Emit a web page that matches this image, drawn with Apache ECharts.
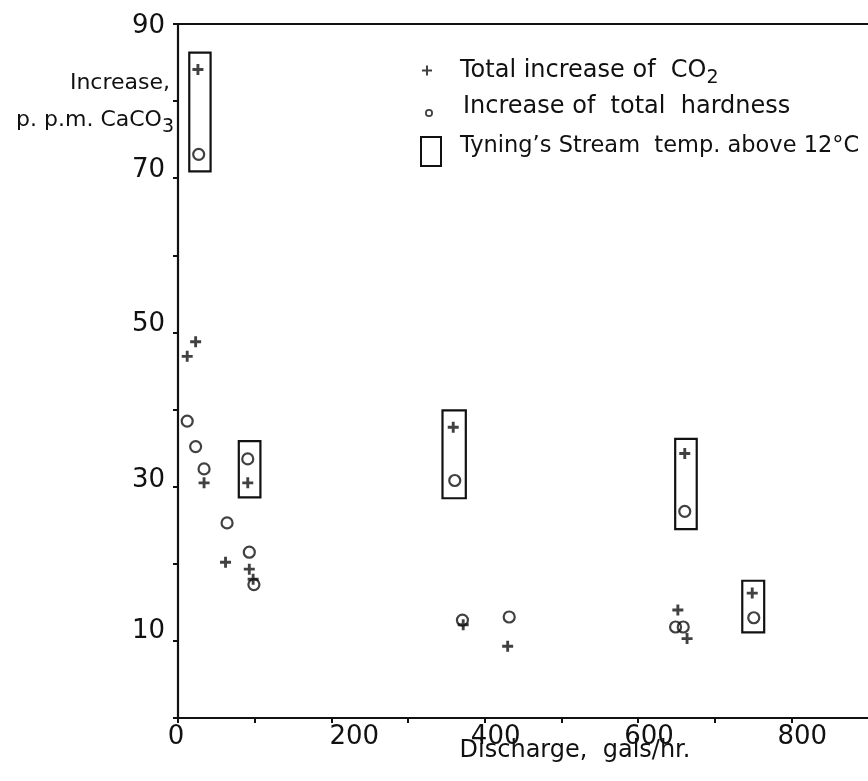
<!DOCTYPE html>
<html><head><meta charset="utf-8">
<script src="https://cdn.jsdelivr.net/npm/echarts/dist/echarts.min.js"></script>
<style>html,body{margin:0;padding:0;background:#fff}#c{width:868px;height:781px}</style>
</head><body><div id="c"></div>
<script>
// Total increase of CO2 (+)
const co2X = [26, 12, 23, 34, 91, 62, 93, 98, 359, 372, 430, 661, 652, 664, 749];
const co2Y = [84.1, 46.9, 48.8, 30.5, 30.5, 20.2, 19.3, 18.0, 37.7, 12.1, 9.3, 34.3, 14.0, 10.3, 16.2];
// Increase of total hardness (o)
const hardX = [27, 12, 23, 34, 91, 64, 93, 99, 361, 371, 432, 661, 649, 659, 751];
const hardY = [73.1, 38.5, 35.2, 32.3, 33.6, 25.3, 21.5, 17.3, 30.8, 12.7, 13.1, 26.8, 11.8, 11.8, 13.0];
// Tyning's Stream temp. above 12°C (boxes)
const boxX0 = [14.7, 79.3, 345, 648.5, 736];
const boxX1 = [42.5, 107.5, 375.4, 676.6, 764.6];
const boxY0 = [70.9, 28.6, 28.5, 24.5, 11.1];
const boxY1 = [86.3, 35.9, 39.9, 36.2, 17.8];
const xLabelValues = [0, 200, 400, 600, 800];
const yLabelValues = [10, 30, 50, 70, 90];

const INK = '#111';
const FONT = 'DejaVu Sans';
const plusPath = 'path://M3.7,0h2.6v3.7h3.7v2.6h-3.7v3.7h-2.6v-3.7h-3.7v-2.6h3.7z';
const legPlusPath = 'path://M4,0h2v4h4v2h-4v4h-2v-4h-4v-2h4z';
const ringPath = 'path://M5,0A5,5,0,1,1,4.99,0ZM5,2.2A2.8,2.8,0,1,0,5.01,2.2Z';
const boxPath = 'path://M0,0H22V31H0ZM2,2V29H20V2Z';

const nameCO2 = 'Total increase of  CO2';
const nameHard = 'Increase of  total  hardness';
const nameBox = 'Tyning\u2019s Stream  temp. above 12\u00B0C';

const co2Data = co2X.map((x, i) => [x, co2Y[i]]);
const hardData = hardX.map((x, i) => [x, hardY[i]]);
const boxData = boxX0.map((x, i) => [x, boxX1[i], boxY0[i], boxY1[i]]);

const txt = (size, extra) => Object.assign({fontFamily: FONT, fontSize: size, color: INK}, extra || {});

const chart = echarts.init(document.getElementById('c'));
const legendBase = {orient: 'vertical', selectedMode: false, itemGap: 0, padding: 0};
chart.setOption({
  animation: false,
  backgroundColor: '#fff',
  grid: {left: 178, right: -2, top: 24, bottom: 63},
  legend: [
    Object.assign({}, legendBase, {left: 422, top: 58.5, itemWidth: 10, itemHeight: 10,
      data: [{name: nameCO2, icon: legPlusPath, itemStyle: {color: INK, borderWidth: 0}}],
      formatter: () => '{a|Total increase of  CO}{s|2}',
      textStyle: txt(24, {padding: [0, 0, 0, 23], rich: {
        a: txt(24), s: txt(19, {padding: [16, 0, 0, 0]})}})}),
    Object.assign({}, legendBase, {left: 425, top: 95, itemWidth: 8, itemHeight: 8,
      data: [{name: nameHard, icon: ringPath, itemStyle: {color: INK, borderWidth: 0}}],
      formatter: n => '{a|' + n + '}',
      textStyle: txt(24, {padding: [0, 0, 0, 25], rich: {a: txt(24, {padding: [0, 0, 12, 0]})}})}),
    Object.assign({}, legendBase, {left: 420, top: 135, itemWidth: 22, itemHeight: 31,
      data: [{name: nameBox, icon: boxPath, itemStyle: {color: INK, borderWidth: 0}}],
      formatter: n => '{a|' + n + '}',
      textStyle: txt(22.5, {padding: [0, 0, 0, 13], rich: {a: txt(22.5, {padding: [0, 0, 10, 0]})}})})
  ],
  xAxis: [{
    type: 'value', min: 0, max: 900, interval: 100,
    axisLine: {lineStyle: {color: INK, width: 2.2}},
    axisTick: {show: true, length: 5, inside: false, lineStyle: {color: INK, width: 2}},
    splitLine: {show: false},
    axisLabel: {
      margin: 6, showMaxLabel: false, fontFamily: FONT, fontSize: 26, color: INK,
      formatter: v => xLabelValues.indexOf(v) < 0 ? '' :
        (v === 0 ? '{z|0}' : v === 200 ? '{b|200}' : '{c|' + v + '}'),
      rich: {
        z: txt(26, {padding: [0, 4, 0, 0]}),
        b: txt(26, {padding: [0, 0, 0, 46]}),
        c: txt(26, {padding: [0, 0, 0, 22]})
      }
    }
  }, {
    type: 'value', position: 'top', min: 0, max: 900,
    axisLine: {show: true, lineStyle: {color: INK, width: 2.2}},
    axisTick: {show: false}, axisLabel: {show: false}, splitLine: {show: false}
  }],
  yAxis: {
    type: 'value', min: 0, max: 90, interval: 10,
    axisLine: {show: true, lineStyle: {color: INK, width: 2.2}},
    axisTick: {show: true, length: 5, inside: false, lineStyle: {color: INK, width: 2}},
    splitLine: {show: false},
    axisLabel: {
      margin: 13, fontFamily: FONT, fontSize: 26, color: INK,
      formatter: v => {
        if (yLabelValues.indexOf(v) < 0) return '';
        const k = {90: 'm2', 70: 'n8', 50: 'n8', 30: 'n6', 10: 'n10'}[v];
        return '{' + k + '|' + v + '}';
      },
      rich: {
        m2: txt(26, {padding: [4, 0, 0, 0]}), n6: txt(26, {padding: [0, 0, 12, 0]}),
        n8: txt(26, {padding: [0, 0, 16, 0]}), n10: txt(26, {padding: [0, 0, 20, 0]})
      }
    }
  },
  graphic: [
    {type: 'text', x: 170, y: 83,
      style: {text: 'Increase,', align: 'right', verticalAlign: 'middle',
        font: '22px "DejaVu Sans"', fill: INK}},
    {type: 'text', x: 174, y: 120,
      style: {text: '{a|p. p.m. CaCO}{s|3}', align: 'right', verticalAlign: 'middle',
        rich: {a: {fontFamily: FONT, fontSize: 22, fill: INK},
               s: {fontFamily: FONT, fontSize: 19, fill: INK, padding: [14, 0, 0, 0]}}}},
    {type: 'text', x: 575, y: 751,
      style: {text: 'Discharge,  gals/hr.', align: 'center', verticalAlign: 'middle',
        font: '24px "DejaVu Sans"', fill: INK}}
  ],
  series: [
    {name: nameCO2, type: 'scatter', data: co2Data, symbol: plusPath, symbolSize: 11,
      itemStyle: {color: INK}, silent: true},
    {name: nameHard, type: 'scatter', data: hardData, symbol: 'circle', symbolSize: 11,
      itemStyle: {color: 'rgba(0,0,0,0)', borderColor: INK, borderWidth: 2.2}, silent: true},
    {name: nameBox, type: 'custom', data: boxData, silent: true,
      encode: {x: [0, 1], y: [2, 3]},
      renderItem: (params, api) => {
        const p0 = api.coord([api.value(0), api.value(3)]);
        const p1 = api.coord([api.value(1), api.value(2)]);
        return {type: 'rect',
          shape: {x: p0[0], y: p0[1], width: p1[0] - p0[0], height: p1[1] - p0[1]},
          style: {fill: 'none', stroke: INK, lineWidth: 2.2}};
      }}
  ]
});
</script></body></html>
